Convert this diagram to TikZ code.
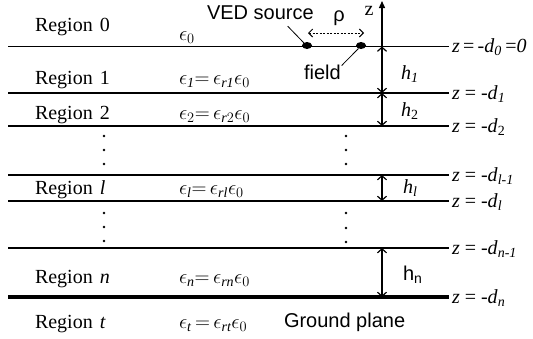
\documentclass[tikz,border=0pt]{standalone}
\usepackage{amsmath}
\usepackage{fontspec}
\setmainfont{Liberation Serif}
\setsansfont{Liberation Sans}
\usetikzlibrary{arrows.meta,shapes.geometric}
\begin{document}
\begin{tikzpicture}[x=1pt,y=-1pt,
  every node/.style={inner sep=0pt,outer sep=0pt},
  font=\fontsize{20}{24}\selectfont,
  sheet/.style={line width=1.3pt},
  groundline/.style={line width=4pt},
  hdim/.style={line width=1.2pt,{Straight Barb[length=4pt,width=9pt]}-{Straight Barb[length=4pt,width=9pt]}},
  rhodim/.style={line width=1pt,dash pattern=on 2pt off 1.5pt,{Straight Barb[length=4pt,width=8pt]}-{Straight Barb[length=4pt,width=8pt]}},
  txt/.style={anchor=base west},
  sanstxt/.style={anchor=base west,font=\fontsize{20}{24}\selectfont\sffamily},
  dotmark/.style={circle,fill,minimum size=2.6pt},
  blob/.style={ellipse,fill,minimum width=10pt,minimum height=7pt}]
\useasboundingbox (0,0) rectangle (533,338);

% layer interfaces
\foreach \n/\y in {0/46.5,1/93,2/126,lm/175,l/201,nm/248,n/297}{
  \coordinate (A\n) at (8,\y);
  \coordinate (B\n) at (449,\y);
  \coordinate (D\n) at (382,\y);
}
\foreach \n in {0,1,2,lm,l,nm}{\draw[sheet] (A\n) -- (B\n);}
\draw[groundline] (An) -- (Bn);

% z axis and thicknesses
\coordinate (ztop) at (382,1);
\draw[sheet,-{Triangle[length=7pt,width=6pt]}] (D0) -- (ztop);
\node (zl) at (369,11) {z};
\draw[hdim] (D0) -- (D1);
\draw[hdim] (D1) -- (D2);
\draw[hdim] (Dlm) -- (Dl);
\draw[hdim] (Dnm) -- (Dn);
\node[txt] (h1) at (401,79) {\textit{h}\textsubscript{\textit{1}}};
\node[txt] (h2) at (401,116) {\textit{h}\textsubscript{2}};
\node[txt] (hl) at (403,193) {\textit{h}\textsubscript{\textit{l}}};
\node[sanstxt] (hn) at (403,280) {h\textsubscript{n}};

% right labels
\node[txt] (r0) at (452,52) {\textit{z}\,=\,-\textit{d}\textsubscript{\textit{0}}\,=\textit{0}};
\node[txt] (r1) at (452,99) {\textit{z} = -\textit{d}\textsubscript{\textit{1}}};
\node[txt] (r2) at (452,132) {\textit{z} = -\textit{d}\textsubscript{2}};
\node[txt] (rlm) at (452,181) {\textit{z} = -\textit{d}\textsubscript{\textit{l-1}}};
\node[txt] (rl) at (452,207) {\textit{z} = -\textit{d}\textsubscript{\textit{l}}};
\node[txt] (rnm) at (452,254) {\textit{z} = -\textit{d}\textsubscript{\textit{n-1}}};
\node[txt] (rn) at (452,303) {\textit{z} = -\textit{d}\textsubscript{\textit{n}}};

% region names
\node[txt] (g0) at (35,31) {Region\hspace{7pt}0};
\node[txt] (g1) at (35,84) {Region\hspace{7pt}1};
\node[txt] (g2) at (35,119) {Region\hspace{7pt}2};
\node[txt] (gl) at (35,194) {Region\hspace{7pt}\textit{l}};
\node[txt] (gn) at (35,283) {Region\hspace{7pt}\textit{n}};
\node[txt] (gt) at (35,328) {Region\hspace{7pt}\textit{t}};

% permittivities
\node[txt] (e0) at (179,40) {$\epsilon_0$};
\node[txt] (e1) at (179,84) {$\epsilon_{\textit{1}}{=}\,\epsilon_{\textit{r1}}\epsilon_0$};
\node[txt] (e2) at (179,119) {$\epsilon_2{=}\,\epsilon_{\textit{r}2}\epsilon_0$};
\node[txt] (el) at (179,194) {$\epsilon_{\textit{l}}{=}\,\epsilon_{\textit{rl}}\epsilon_0$};
\node[txt] (en) at (179,283) {$\epsilon_{\textit{n}}{=}\,\epsilon_{\textit{rn}}\epsilon_0$};
\node[txt] (et) at (179,328) {$\epsilon_{\textit{t}}\,{=}\,\epsilon_{\textit{rt}}\epsilon_0$};

% vertical dots
\foreach \i/\x/\y in {1/104/136,2/104/150,3/104/164,4/104/213,5/104/227,6/104/241,
                      7/346/136,8/346/150,9/346/164,10/346/213,11/346/228,12/346/242}{
  \node[dotmark] (v\i) at (\x,\y) {};
}

% source and field
\node[blob] (src) at (307,45.5) {};
\node[blob] (fd) at (361,45.5) {};
\node[sanstxt] (ved) at (207,19) {VED source};
\node[sanstxt] (fld) at (304,79) {field};
\node[anchor=base,font=\fontsize{20}{24}\selectfont\sffamily] (rho) at (339,21) {ρ};
\coordinate (rhoL) at (308,33);
\coordinate (rhoR) at (364,33);
\draw[rhodim] (rhoL) -- (rhoR);
\draw[line width=0.8pt] ([xshift=-26pt,yshift=-7pt]ved.south east) -- (src.140);
\draw[line width=0.8pt] ([xshift=1pt,yshift=-1pt]fld.north east) -- (fd.230);

% ground plane
\node[sanstxt] (gp) at (284,327) {Ground plane};
\end{tikzpicture}
\end{document}
